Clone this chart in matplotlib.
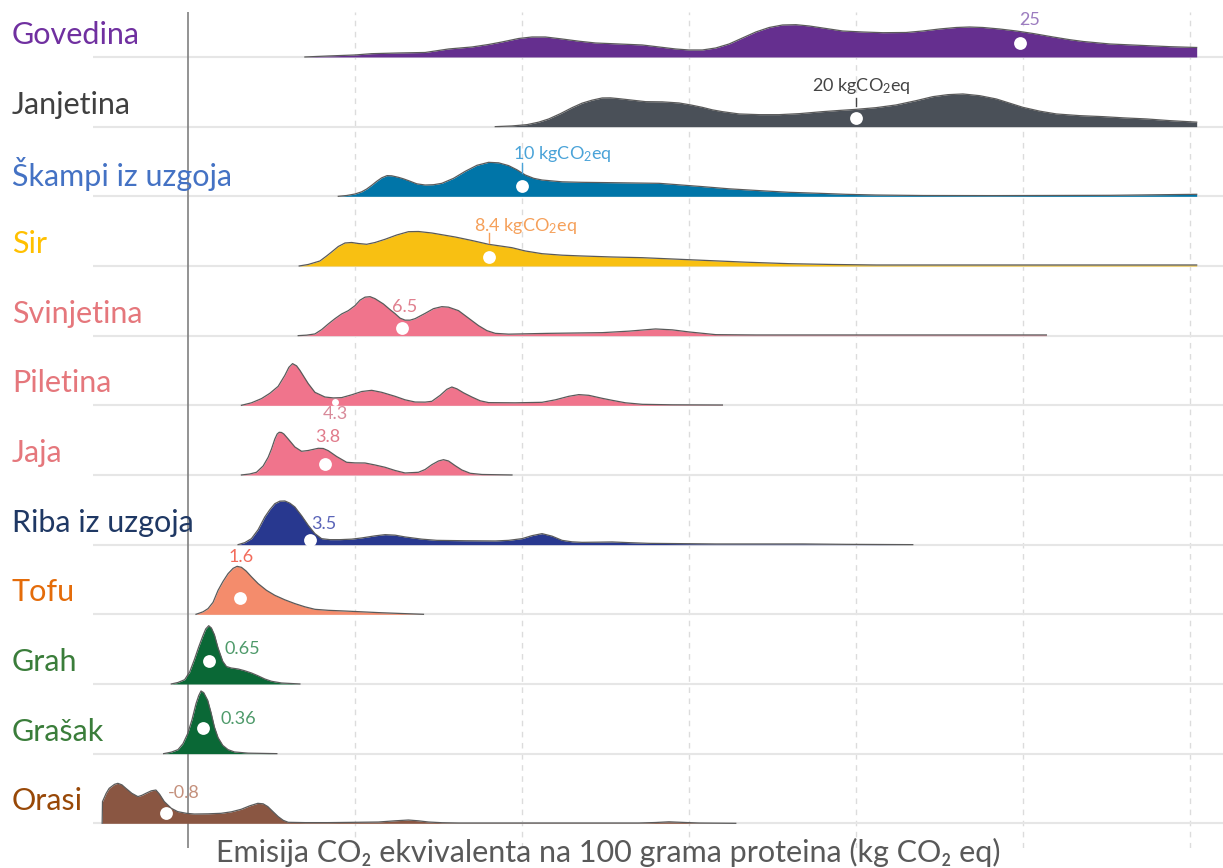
import matplotlib
matplotlib.use("Agg")
import matplotlib.pyplot as plt
import numpy as np
from matplotlib.transforms import blended_transform_factory

plt.rcParams['font.family'] = ['Lato', 'DejaVu Sans']
plt.rcParams['mathtext.fontset'] = 'custom'
plt.rcParams['mathtext.rm'] = 'Lato'
plt.rcParams['mathtext.it'] = 'Lato:italic'

# ---------------- data ----------------
categories = ["Govedina", "Janjetina", "Škampi iz uzgoja", "Sir", "Svinjetina",
              "Piletina", "Jaja", "Riba iz uzgoja", "Tofu", "Grah", "Grašak", "Orasi"]

# median values as placed on the chart (kg CO2eq / 100 g protein)
medians = [24.9, 20.0, 10.0, 9.0, 6.4, 4.4, 4.1, 3.65, 1.56, 0.63, 0.45, -0.65]
median_labels = ["25", "20 kgCO$_2$eq", "10 kgCO$_2$eq", "8.4 kgCO$_2$eq", "6.5", "4.3",
                 "3.8", "3.5", "1.6", "0.65", "0.36", "-0.8"]

# density profiles (x in kg CO2eq, relative density)
gov_x = [3.5, 4.2, 5.0, 5.5, 6.3, 7.1, 7.5, 7.8, 8.5, 9.0, 9.4, 9.9, 10.3, 10.7, 11.2, 11.7,
         12.2, 12.9, 13.6, 14.1, 14.6, 15.0, 15.4, 15.8, 16.2, 16.6, 17.0, 17.4, 17.8, 18.2,
         18.6, 19.1, 19.6, 20.2, 20.8, 21.5, 22.0, 22.5, 23.0, 23.4, 23.8, 24.3, 24.8, 25.3,
         25.9, 26.4, 26.8, 27.6, 28.6, 29.4, 30.2]
gov_d = [0, 1, 2, 3.3, 4, 4.5, 6.5, 8, 10, 12.5, 15, 18.5, 20, 20, 18, 15.8,
         14, 13, 12, 10, 8, 7, 7, 9, 13, 19, 25, 29.5, 32, 32.3,
         31, 28.5, 26, 25, 24.3, 24.5, 26, 28, 29.5, 30, 29.5, 28, 26, 23.5,
         20, 17.3, 15.5, 13, 11.5, 10.3, 9.5]

jan_x = [9.2, 9.7, 10.15, 10.5, 10.8, 11.15, 11.5, 11.8, 12.1, 12.4, 12.65, 12.9, 13.3, 13.7,
         14.2, 14.7, 15.05, 15.4, 15.7, 16.0, 16.5, 17.1, 17.7, 18.3, 19.0, 19.5, 20.0, 20.6,
         21.2, 21.8, 22.3, 22.75, 23.2, 23.7, 24.2, 24.6, 25.0, 25.5, 26.0, 26.7, 27.4, 28.0,
         28.7, 29.4, 30.2]
jan_d = [0, 0.7, 2, 4.5, 7.7, 13, 19, 23.5, 26.5, 28.7, 28.8, 28, 26.5, 25,
         24.8, 23.7, 21.7, 19.3, 16.8, 15, 12.7, 12, 12, 13, 15, 16.2, 17.3, 19,
         21.7, 26, 30, 32, 32.7, 31, 27.7, 23.5, 19.3, 15.5, 12.7, 11, 10, 8.8,
         7.7, 6, 4.5]

skm_x = [4.5, 4.75, 5.0, 5.2, 5.35, 5.5, 5.65, 5.8, 5.96, 6.1, 6.3, 6.45, 6.6, 6.85, 7.1, 7.35,
         7.6, 7.95, 8.3, 8.65, 9.0, 9.3, 9.6, 9.85, 10.1, 10.35, 10.6, 11.2, 11.8, 13.0, 14.1,
         14.7, 15.4, 16.2, 17.1, 18.0, 18.9, 19.7, 20.6, 22.0, 24.1, 27.6, 30.2]
skm_d = [0, 0.8, 2.3, 4.5, 7.3, 11, 15, 18.5, 20.7, 20.5, 19, 17.5, 15.7, 12.5, 11.3, 11.6,
         13, 18, 25, 31, 34, 33.5, 30.7, 26.5, 21.3, 18, 16.3, 14.5, 14, 13.5, 13,
         11.5, 9.7, 7.5, 5.7, 4, 3, 2, 1.3, 0.8, 0.7, 1, 2]

sir_x = [3.33, 3.6, 3.95, 4.15, 4.3, 4.5, 4.7, 4.9, 5.1, 5.35, 5.6, 5.9, 6.25, 6.6, 6.9, 7.3,
         7.65, 8.0, 8.5, 9.0, 9.35, 9.7, 10.1, 10.6, 11.2, 11.8, 12.7, 13.6, 14.5, 15.4, 16.7,
         18.0, 19.3, 20.6, 25.0, 30.2]
sir_d = [0, 1.5, 5, 10, 14, 19.5, 23, 23.5, 22.5, 21.7, 23.5, 26.7, 31, 34.3, 34.5, 33,
         31, 29, 25.5, 21.7, 20, 18.3, 15, 12.3, 10.8, 10, 9, 8.3, 7, 5.7, 3.8,
         2.3, 1.5, 1, 1, 1]

svi_x = [3.3, 3.55, 3.8, 4.0, 4.2, 4.4, 4.6, 4.8, 5.0, 5.15, 5.3, 5.45, 5.6, 5.85, 6.05, 6.2,
         6.35, 6.5, 6.65, 6.8, 7.1, 7.35, 7.6, 7.8, 8.1, 8.4, 8.7, 8.95, 9.2, 9.6, 10.8, 12.4,
         13.2, 14.0, 14.5, 15.0, 15.8, 17.0, 25.7]
svi_d = [0, 0.5, 1.7, 6, 11.7, 17, 21.7, 25, 30, 35.5, 38.5, 39, 37, 31.7, 26, 22,
         17.5, 15.5, 15.5, 17, 22.3, 27, 29, 28.5, 25, 17.5, 10, 5, 2.3, 1.5, 2.3, 3,
         4.5, 6.7, 5.8, 3.7, 1, 0.7, 0.7]

pil_x = [1.6, 1.9, 2.2, 2.45, 2.7, 2.9, 3.02, 3.13, 3.25, 3.35, 3.5, 3.6, 3.8, 4.1, 4.35, 4.6,
         4.9, 5.2, 5.5, 5.8, 6.2, 6.5, 6.8, 7.1, 7.3, 7.55, 7.75, 7.9, 8.05, 8.25, 8.5, 8.75,
         9.0, 9.8, 10.6, 11.0, 11.4, 11.7, 12.0, 12.4, 12.7, 13.1, 13.6, 14.5, 16.0]
pil_d = [0, 2.5, 6.7, 12, 19, 30, 38, 41.7, 39.5, 35, 27, 21.7, 13, 8.3, 7.4, 7.7,
         10.5, 13.8, 15, 13, 9, 5.5, 3.3, 3.2, 4, 10, 16, 18.3, 16.5, 12.5, 8.3, 4.5,
         2.7, 2.5, 3, 5.5, 9, 10.7, 10, 7, 5, 2.5, 1, 0.5, 0.3]

jaj_x = [1.6, 1.85, 2.05, 2.25, 2.4, 2.5, 2.6, 2.67, 2.73, 2.8, 2.87, 3.0, 3.2, 3.4, 3.6, 3.9,
         4.05, 4.2, 4.45, 4.75, 5.0, 5.3, 5.6, 5.9, 6.2, 6.5, 6.9, 7.1, 7.3, 7.5, 7.65, 7.8,
         8.0, 8.2, 8.45, 8.8, 9.7]
jaj_d = [0, 1, 2.7, 9, 17.7, 26, 36, 41, 42.7, 42.5, 41, 36, 28, 23.7, 24.5, 26.7,
         26.5, 24.3, 18.5, 12.7, 12.1, 12, 10, 7.7, 4.5, 2, 2.7, 5.5, 10.3, 14, 15.3, 14,
         9.3, 5, 1.7, 0.5, 0]

rib_x = [1.5, 1.7, 1.9, 2.1, 2.3, 2.45, 2.6, 2.75, 2.9, 3.05, 3.2, 3.4, 3.6, 3.8, 4.0, 4.25,
         4.55, 4.9, 5.2, 5.6, 5.9, 6.2, 6.5, 7.0, 7.45, 8.3, 9.2, 9.6, 10.0, 10.3, 10.6, 10.9,
         11.2, 11.5, 11.8, 12.3, 12.7, 13.2, 13.8, 15.8, 18.4, 19.7, 21.7]
rib_d = [0, 2, 6, 15, 27.7, 35, 41, 43.5, 43.7, 41.5, 37.7, 29, 19.3, 11, 6, 5,
         5, 5.5, 6.7, 8.8, 10, 9.5, 7.7, 5.5, 4.3, 3.9, 3.7, 4.3, 6, 9, 11, 8.5,
         4.3, 2.8, 2.3, 2.5, 2.7, 2, 1.3, 0.7, 0.7, 0.3, 0]

tof_x = [0.24, 0.45, 0.6, 0.75, 0.9, 1.05, 1.2, 1.35, 1.47, 1.6, 1.74, 1.9, 2.1, 2.35, 2.6,
         2.9, 3.2, 3.5, 3.8, 4.2, 4.7, 5.2, 5.7, 6.4, 7.05]
tof_d = [0, 2.5, 5.7, 12, 24, 33, 40.7, 46, 48, 47, 43.3, 37.5, 30.7, 24, 19,
         14.5, 10.7, 7.5, 5, 4, 3.3, 2.5, 1.7, 0.8, 0]

grh_x = [-0.5, -0.3, -0.1, 0.05, 0.19, 0.32, 0.44, 0.53, 0.62, 0.7, 0.79, 0.9, 1.04, 1.15,
         1.29, 1.5, 1.69, 1.9, 2.09, 2.3, 2.5, 2.8, 3.35]
grh_d = [0, 1.5, 4.3, 12, 24.3, 37, 47.7, 55, 58.3, 56, 49.3, 36, 22.7, 17.5,
         16, 15, 13.3, 11, 8.3, 5, 2.7, 1, 0]

grs_x = [-0.73, -0.5, -0.3, -0.15, -0.01, 0.12, 0.24, 0.32, 0.39, 0.47, 0.59, 0.69, 0.79,
         0.9, 1.04, 1.2, 1.39, 1.8, 2.66]
grs_d = [0, 1.5, 4, 10, 20, 34, 50, 58, 62.7, 61, 53.3, 41, 26.7,
         16, 8.3, 4, 1.7, 0.5, 0]

ora_x = [-2.57, -2.56, -2.45, -2.36, -2.2, -2.1, -1.98, -1.86, -1.68, -1.5, -1.38, -1.26,
         -1.1, -0.96, -0.85, -0.71, -0.5, -0.31, -0.05, 0.19, 0.6, 0.99, 1.3, 1.59, 1.85,
         2.09, 2.25, 2.39, 2.55, 2.7, 2.85, 3.0, 3.5, 4.2, 5.0, 5.7, 6.2, 6.6, 6.9, 7.2,
         7.6, 8.1, 13.5, 14.0, 14.4, 14.9, 15.3, 16.4]
ora_d = [0, 21.7, 30, 35, 39, 40, 38.5, 35, 30, 26.7, 28, 30,
         32.5, 33.3, 29, 21.7, 15, 11.7, 10, 9.3, 9.5, 10, 11.5, 14, 17.5,
         20, 19.5, 16.7, 11.5, 6.7, 3, 1, 0.7, 0.7, 1, 1.3, 2.5, 3.3, 2.5, 1.3,
         0.6, 0.3, 0.3, 0.8, 1.5, 0.8, 0.3, 0]

profiles = [(gov_x, gov_d), (jan_x, jan_d), (skm_x, skm_d), (sir_x, sir_d),
            (svi_x, svi_d), (pil_x, pil_d), (jaj_x, jaj_d), (rib_x, rib_d),
            (tof_x, tof_d), (grh_x, grh_d), (grs_x, grs_d), (ora_x, ora_d)]

# ---------------- styles ----------------
fill_colors = ["#652f8f", "#4a5058", "#0075a8", "#f8c012", "#f0748c", "#f0748c",
               "#f0748c", "#28388f", "#f48c6c", "#0a6836", "#0a6836", "#8a5642"]
name_colors = ["#7030a0", "#404040", "#4472c4", "#ffc000", "#e5777c", "#e5777c",
               "#e5777c", "#1f3864", "#e46c0a", "#3a7d3a", "#3a7d3a", "#984807"]
lab_colors = ["#9c7cc0", "#444444", "#4aa3d8", "#f5a05a", "#e0808f", "#d88a9a",
              "#e07a8a", "#5a64b8", "#f26b5b", "#4e9a6a", "#4e9a6a", "#c4907c"]

ROW = 69.7  # pixels per row (density scale)
dot_h = [14, 9, 10, 9, 8, 3, 11, 5, 16.7, 23.3, 26, 10]
dot_size = [85, 85, 85, 85, 85, 25, 85, 85, 85, 85, 85, 85]
# (x, y-offset px, ha)
lab_pos = [(25.2, 37, "center"), (20.15, 41, "center"), (11.2, 42, "center"),
           (10.1, 39.7, "center"), (6.5, 29, "center"), (4.4, -9, "center"),
           (4.18, 38, "center"), (4.07, 20.7, "center"), (1.6, 57, "center"),
           (1.1, 35, "left"), (0.96, 35, "left"), (-0.6, 30.6, "left")]
tick_rows = {1: (20.0, 21, 29), 2: (10.0, 23, 33), 3: (9.0, 23, 33)}

W, H = 1223, 868
fig = plt.figure(figsize=(W / 100, H / 100), dpi=100)
ax = fig.add_axes([93 / W, 20 / H, 1 - 93 / W, 836 / H])
ax.set_xlim((93 - 188) / 33.4, (1223 - 188) / 33.4)
ax.set_ylim(-(848 - 823.3) / ROW, 11 + 45 / ROW)
ax.set_axis_off()

for v in [5, 10, 15, 20, 25, 30]:
    ax.axvline(v, color="#dcdcdc", lw=1.0, ls=(0, (4, 4)), zorder=0)
ax.axvline(0, color="#808080", lw=1.2, zorder=0.6)

trans = blended_transform_factory(fig.transFigure, ax.transData)

n = len(categories)
for i, (name, (xs, ds)) in enumerate(zip(categories, profiles)):
    base = n - 1 - i
    ax.axhline(base, color="#e6e6e6", lw=1.5, zorder=0.5)
    xs = np.asarray(xs, float)
    top = base + np.asarray(ds, float) / ROW
    z = 2 + i * 0.1
    ax.fill_between(xs, base, top, color=fill_colors[i], lw=0, zorder=z)
    ax.plot(xs, top, color="#5a5a5a", lw=0.9, zorder=z + 0.01, solid_joinstyle="round")
    ax.scatter([medians[i]], [base + dot_h[i] / ROW], s=dot_size[i], color="white",
               lw=0, zorder=z + 0.02)
    lx, ly, ha = lab_pos[i]
    ax.text(lx, base + ly / ROW, median_labels[i], color=lab_colors[i], fontsize=13,
            ha=ha, va="center", zorder=10)
    if i in tick_rows:
        tx, y0, y1 = tick_rows[i]
        ax.plot([tx, tx], [base + y0 / ROW, base + y1 / ROW], color=lab_colors[i],
                lw=1.0, zorder=z + 0.03)
    ax.text(12 / W, base + 22 / ROW, name, transform=trans, color=name_colors[i],
            fontsize=22, ha="left", va="center", zorder=10)

fig.text(608 / W, 1 - 852 / H, "Emisija CO₂ ekvivalenta na 100 grama proteina (kg CO₂ eq)",
         ha="center", va="center", fontsize=22, color="#595959")

fig.savefig("out.png", dpi=100, facecolor="white")
